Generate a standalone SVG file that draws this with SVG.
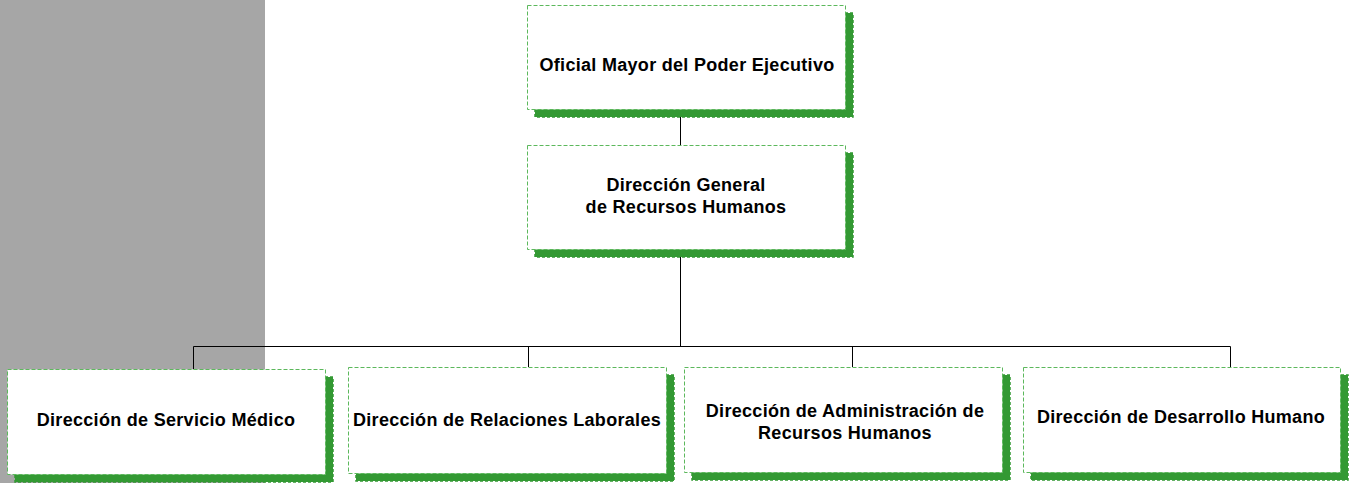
<svg xmlns="http://www.w3.org/2000/svg" width="1356" height="483" viewBox="0 0 1356 483">
<style>
.box{fill:#ffffff;stroke:#5cb85c;stroke-width:1;stroke-dasharray:4 2}
.sh{fill:#339933;stroke:#339933;stroke-width:1.5;stroke-dasharray:3 2}
.t{font-family:"Liberation Sans",Arial,sans-serif;font-weight:bold;font-size:18px;letter-spacing:0.3px;fill:#000;text-anchor:middle}
.c{stroke:#000;stroke-width:1;fill:none}
</style>
<rect x="0" y="0" width="265" height="483" fill="#a6a6a6"/>
<g id="connectors">
<path class="c" d="M680.5 109V145M680.5 249V346.5M193.5 346.5H1230.5M193.5 346.5V369M528.5 346.5V367M852.5 346.5V367M1230.5 346.5V367"/>
</g>
<g id="n1">
<rect class="sh" x="535" y="13" width="318" height="104"/>
<rect class="box" x="527.5" y="5.5" width="318" height="104"/>
<text class="t" x="687" y="71">Oficial Mayor del Poder Ejecutivo</text>
</g>
<g id="n2">
<rect class="sh" x="535" y="153" width="318" height="104"/>
<rect class="box" x="527.5" y="145.5" width="318" height="104"/>
<text class="t" x="686" y="191">Dirección General</text>
<text class="t" x="686" y="213">de Recursos Humanos</text>
</g>
<g id="n3">
<rect class="sh" x="15" y="377" width="318" height="105"/>
<rect class="box" x="7.5" y="369.5" width="318" height="105"/>
<text class="t" x="166" y="426">Dirección de Servicio Médico</text>
</g>
<g id="n4">
<rect class="sh" x="356" y="375" width="318" height="106"/>
<rect class="box" x="348.5" y="367.5" width="318" height="106"/>
<text class="t" x="507" y="426">Dirección de Relaciones Laborales</text>
</g>
<g id="n5">
<rect class="sh" x="692" y="375" width="318" height="105"/>
<rect class="box" x="684.5" y="367.5" width="318" height="105"/>
<text class="t" x="845" y="417">Dirección de Administración de</text>
<text class="t" x="845" y="439">Recursos Humanos</text>
</g>
<g id="n6">
<rect class="sh" x="1031" y="375" width="317" height="105"/>
<rect class="box" x="1023.5" y="367.5" width="317" height="105"/>
<text class="t" x="1181" y="423">Dirección de Desarrollo Humano</text>
</g>
</svg>
